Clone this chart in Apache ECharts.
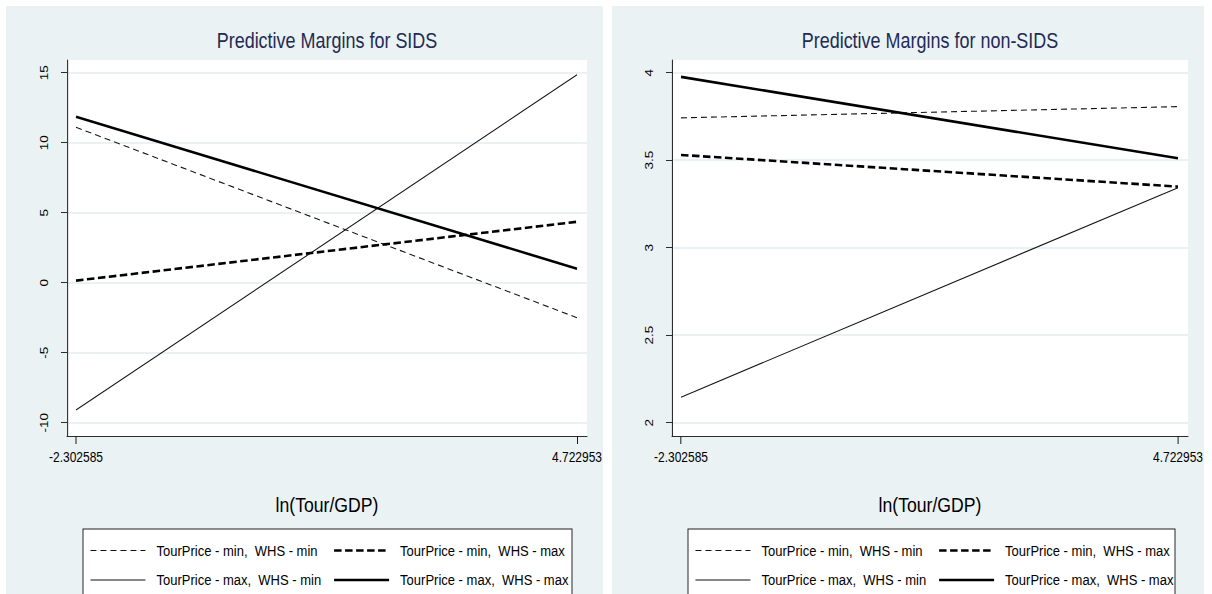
<!DOCTYPE html>
<html>
<head>
<meta charset="utf-8">
<title>Predictive Margins</title>
<script src="https://cdn.jsdelivr.net/npm/echarts@6/dist/echarts.min.js"></script>
<style>
  html, body { margin: 0; padding: 0; background: #ffffff; }
  #wrap { width: 1212px; height: 594px; overflow: hidden; position: relative; }
  #chart { height: 594px; transform-origin: 0 0; }
</style>
</head>
<body>
<div id="wrap"><div id="chart"></div></div>
<script>
// ---- data -------------------------------------------------------------
const xTicks = [-2.302585, 4.722953];
const xTickLabels = ['-2.302585', '4.722953'];
const seriesNames = [
  'TourPrice - min,  WHS - min',
  'TourPrice - min,  WHS - max',
  'TourPrice - max,  WHS - min',
  'TourPrice - max,  WHS - max'
];
const panelTitles = ['Predictive Margins for SIDS', 'Predictive Margins for non-SIDS'];
const xAxisTitle = 'ln(Tour/GDP)';

// SIDS margins at the two ends of ln(Tour/GDP)
const sidsMinMin = [11.1, -2.5];
const sidsMinMax = [0.15, 4.35];
const sidsMaxMin = [-9.1, 14.85];
const sidsMaxMax = [11.85, 1.0];
const sidsYTicks = [-10, -5, 0, 5, 10, 15];

// non-SIDS margins
const nonMinMin = [3.742, 3.806];
const nonMinMax = [3.53, 3.349];
const nonMaxMin = [2.146, 3.343];
const nonMaxMax = [3.976, 3.511];
const nonYTicks = [2, 2.5, 3, 3.5, 4];

// ---- horizontal squeeze ----------------------------------------------
// The figure is laid out on a wider canvas and squeezed horizontally,
// which gives the condensed lettering of the exported graph.
const S = 0.84;
const W = 1212, H = 594;
const chartEl = document.getElementById('chart');
chartEl.style.width = (W / S) + 'px';
chartEl.style.transform = 'scaleX(' + S + ')';
const sx = v => v / S;          // screen x-distance -> layout x-distance

const FONT = '"Liberation Sans", Arial, Helvetica, sans-serif';

// ---- styling ----------------------------------------------------------
const BG = '#eaf2f3';
const GRID_LINE = '#e3edf0';
const AXIS = '#1a1a1a';
const lineStyles = [
  { width: 1.1, type: [sx(6), sx(4)], color: '#111' },
  { width: 2.6, type: [sx(7.5), sx(3.5)], color: '#000' },
  { width: 1.1, type: 'solid', color: '#111' },
  { width: 2.6, type: 'solid', color: '#000' }
];

// plot boxes (screen pixels) and padding between the outer ticks and the box edge
const panels = [
  { left: 67,  top: 60, width: 520, height: 376, padL: 9, padR: 10, padT: 12.7, padB: 13.3,
    yTicks: sidsYTicks, data: [sidsMinMin, sidsMinMax, sidsMaxMin, sidsMaxMax],
    bgLeft: 6, bgWidth: 597, legendLeft: 83, legendWidth: 489 },
  { left: 672, top: 60, width: 516, height: 376, padL: 9, padR: 10, padT: 12.7, padB: 13.3,
    yTicks: nonYTicks, data: [nonMinMin, nonMinMax, nonMaxMin, nonMaxMax],
    bgLeft: 612, bgWidth: 592, legendLeft: 688, legendWidth: 487 }
];

function xRange(p) {
  const unit = (xTicks[1] - xTicks[0]) / (p.width - p.padL - p.padR);
  return [xTicks[0] - p.padL * unit, xTicks[1] + p.padR * unit];
}
function yRange(p) {
  const lo = p.yTicks[0], hi = p.yTicks[p.yTicks.length - 1];
  const unit = (hi - lo) / (p.height - p.padT - p.padB);
  return [lo - p.padB * unit, hi + p.padT * unit];
}

// legend geometry (screen pixels): a white box holding two columns of keys
const LEG = { boxTop: 529, padL: 7, rowTop: 542.5, icon: 55, textGap: 11, colStep: 243, rowGap: 13.5 };
const legIcon = sx(LEG.icon);
const legTextPad = sx(LEG.textGap) - 5;             // ECharts puts text 5px after the icon
const legendColumns = [[seriesNames[0], seriesNames[2]], [seriesNames[1], seriesNames[3]]];

const grid = [], xAxis = [], yAxis = [], series = [], legend = [], title = [], graphic = [];

panels.forEach((p, k) => {
  graphic.push({
    type: 'rect', shape: { x: sx(p.bgLeft), y: 6, width: sx(p.bgWidth), height: H },
    style: { fill: BG }, z: -10, silent: true
  });
  graphic.push({
    type: 'rect', shape: { x: sx(p.legendLeft), y: LEG.boxTop, width: sx(p.legendWidth), height: 100 },
    style: { fill: '#ffffff', stroke: '#222', lineWidth: 1.15 }, z: -5, silent: true
  });
  grid.push({
    left: sx(p.left), top: p.top, width: sx(p.width), height: p.height,
    show: true, backgroundColor: '#ffffff', borderWidth: 0, containLabel: false
  });
  const xr = xRange(p), yr = yRange(p);
  xAxis.push({
    type: 'value', gridIndex: k, min: xr[0], max: xr[1],
    name: xAxisTitle, nameLocation: 'middle', nameGap: 58,
    nameTextStyle: { fontFamily: FONT, fontSize: 21, color: '#000' },
    axisLine: { show: true, onZero: false, lineStyle: { color: AXIS, width: 1 } },
    axisTick: { show: true, length: 8, customValues: xTicks, lineStyle: { color: AXIS, width: sx(1) } },
    axisLabel: {
      show: true, customValues: xTicks, margin: 14,
      fontFamily: FONT, fontSize: 14.3, color: '#000',
      formatter: v => xTickLabels[xTicks.indexOf(v)] ?? String(v)
    },
    splitLine: { show: false }
  });
  yAxis.push({
    type: 'value', gridIndex: k, min: yr[0], max: yr[1],
    axisLine: { show: true, onZero: false, lineStyle: { color: AXIS, width: sx(1) } },
    axisTick: { show: true, length: sx(6), customValues: p.yTicks, lineStyle: { color: AXIS, width: 1 } },
    axisLabel: {
      show: true, customValues: p.yTicks, rotate: 90, margin: sx(17),
      fontFamily: FONT, fontSize: 13.5, color: '#000'
    },
    splitLine: { show: true, lineStyle: { color: GRID_LINE, width: 1.6 } }
  });
  p.data.forEach((vals, i) => {
    series.push({
      type: 'line', name: seriesNames[i], xAxisIndex: k, yAxisIndex: k,
      data: xTicks.map((x, j) => [x, vals[j]]),
      symbol: 'none', silent: true, animation: false,
      itemStyle: { color: '#000' },
      lineStyle: lineStyles[i], z: 2 + (i % 2)
    });
  });
  legendColumns.forEach((names, c) => {
    legend.push({
      data: names,
      left: sx(p.legendLeft + LEG.padL + c * LEG.colStep), top: LEG.rowTop,
      orient: 'vertical', selectedMode: false, padding: 0,
      itemWidth: legIcon, itemHeight: 14, itemGap: LEG.rowGap,
      itemStyle: { opacity: 0, borderWidth: 0 },
      lineStyle: { width: 'inherit', type: 'inherit', color: 'inherit' },
      textStyle: { fontFamily: FONT, fontSize: 15.5, color: '#000', padding: [0, 0, 0, legTextPad] }
    });
  });
  title.push({
    text: panelTitles[k], left: sx(p.left + p.width / 2), top: 29.5, textAlign: 'center', padding: 0,
    textStyle: { fontFamily: FONT, fontSize: 21.4, fontWeight: 'normal', color: '#1f2b55' }
  });
});

const chart = echarts.init(chartEl, null, { renderer: 'svg', width: W / S, height: H });
chart.setOption({
  animation: false,
  backgroundColor: '#ffffff',
  textStyle: { fontFamily: FONT },
  graphic, title, grid, xAxis, yAxis, legend, series
});
</script>
</body>
</html>
